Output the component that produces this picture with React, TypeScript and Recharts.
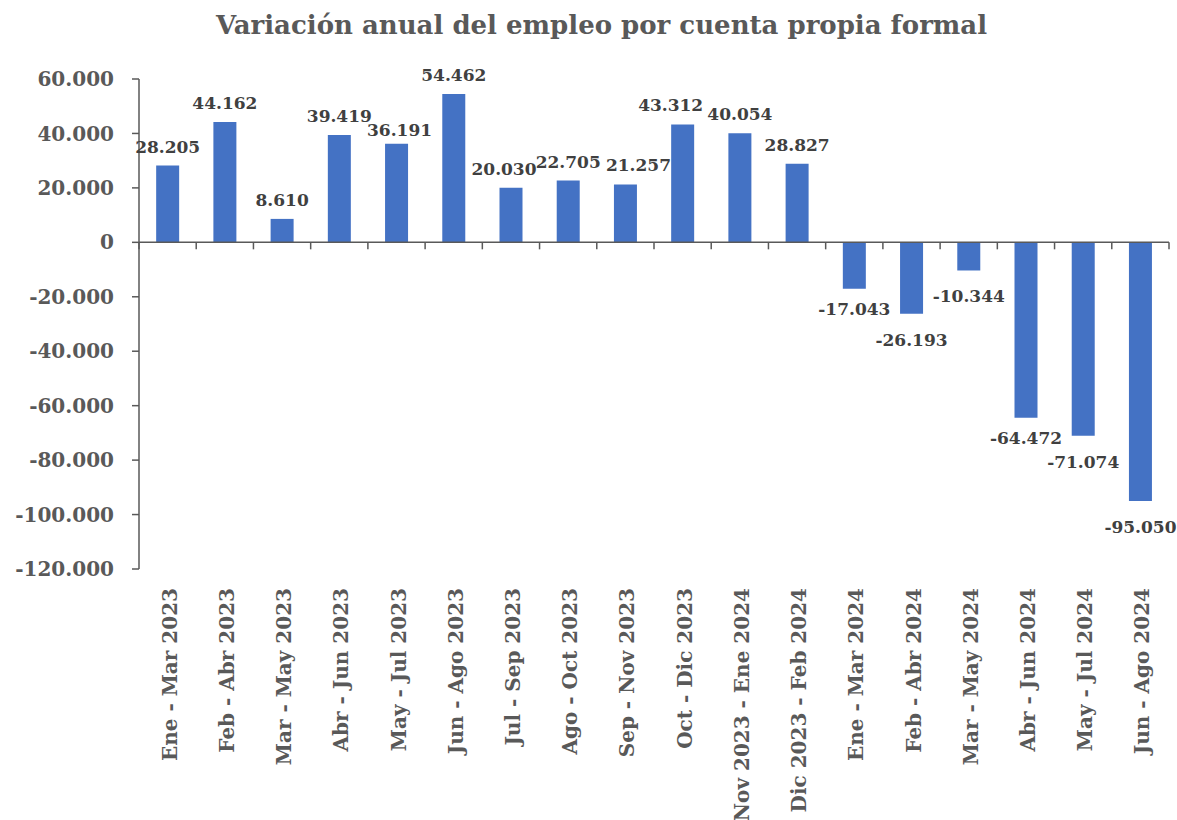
import React from 'react';
import { BarChart, Bar, XAxis, YAxis, LabelList, ReferenceLine } from 'recharts';

const periods = [
    'Ene - Mar 2023', 'Feb - Abr 2023', 'Mar - May 2023', 'Abr - Jun 2023', 'May - Jul 2023',
    'Jun - Ago 2023', 'Jul - Sep 2023', 'Ago - Oct 2023', 'Sep - Nov 2023', 'Oct - Dic 2023',
    'Nov 2023 - Ene 2024', 'Dic 2023 - Feb 2024', 'Ene - Mar 2024', 'Feb - Abr 2024',
    'Mar - May 2024', 'Abr - Jun 2024', 'May - Jul 2024', 'Jun - Ago 2024',
];
const variacion = [
    28205, 44162, 8610, 39419, 36191, 54462, 20030, 22705, 21257, 43312,
    40054, 28827, -17043, -26193, -10344, -64472, -71074, -95050,
];
const yTicks = [60000, 40000, 20000, 0, -20000, -40000, -60000, -80000, -100000, -120000];

const data = periods.map((name, i) => ({ name, value: variacion[i] }));

const FONT = '"DejaVu Serif", serif';
const AXIS_GREY = '#595959';
const LABEL_GREY = '#404040';

// small label nudges (excel moved a few labels to avoid collisions)
const labelNudge: Record<number, [number, number]> = {
    4: [3, 5],
    6: [-7, 0],
    8: [13, 0],
    9: [-12, 0],
    12: [0, -6],
    15: [0, -6],
};

const fmt = (v: number) => {
    const s = Math.abs(v).toString().replace(/\B(?=(\d{3})+(?!\d))/g, '.');
    return v < 0 ? `-${s}` : s;
};

const XTick: React.FC<any> = ({ x, y, payload }) => (
    <g transform={`translate(${x},${y})`}>
        <text
            transform="rotate(-90)"
            x={-11}
            y={0}
            dy="0.45em"
            textAnchor="end"
            fill={AXIS_GREY}
            fontFamily={FONT}
            fontWeight="bold"
            fontSize={20}
        >
            {payload.value}
        </text>
    </g>
);

const ValueLabel: React.FC<any> = ({ x, y, width, height, value, index }) => {
    const top = Math.min(y, y + height);
    const bottom = Math.max(y, y + height);
    const [dx, dy] = labelNudge[index] || [0, 0];
    const cx = x + width / 2 + dx;
    const ty = (value >= 0 ? top - 13 : bottom + 32) + dy;
    return (
        <text x={cx} y={ty} textAnchor="middle" fill={LABEL_GREY} fontFamily={FONT} fontWeight="bold" fontSize={17}>
            {fmt(value)}
        </text>
    );
};

// zero line with category boundary tick marks, like the excel category axis
const ZeroAxis: React.FC<any> = ({ x1, y1, x2 }) => {
    const step = (x2 - x1) / data.length;
    return (
        <g>
            <line x1={x1} y1={y1} x2={x2} y2={y1} stroke={AXIS_GREY} strokeWidth={1.5} />
            {data.map((_, i) => (
                <line key={i} x1={x1 + step * (i + 1)} y1={y1} x2={x1 + step * (i + 1)} y2={y1 + 7} stroke={AXIS_GREY} strokeWidth={1.5} />
            ))}
            <line x1={x1} y1={y1} x2={x1} y2={y1 + 7} stroke={AXIS_GREY} strokeWidth={1.5} />
        </g>
    );
};

export default function App() {
    return (
        <div style={{ position: 'absolute', left: 0, top: 0, width: 1177, height: 820, background: '#fff' }}>
            <div
                style={{
                    position: 'absolute',
                    top: 10,
                    left: 13,
                    width: 1177,
                    textAlign: 'center',
                    fontFamily: FONT,
                    fontWeight: 'bold',
                    fontSize: 26,
                    color: AXIS_GREY,
                }}
            >
                Variación anual del empleo por cuenta propia formal
            </div>
            <BarChart width={1177} height={820} data={data} margin={{ top: 79, right: 8, left: 0, bottom: 0 }} barCategoryGap="30%">
                <XAxis
                    dataKey="name"
                    interval={0}
                    height={251}
                    axisLine={false}
                    tickLine={false}
                    tick={<XTick />}
                />
                <YAxis
                    type="number"
                    domain={[-120000, 60000]}
                    ticks={yTicks}
                    interval={0}
                    width={139}
                    tickFormatter={fmt}
                    tickSize={7}
                    tickMargin={18}
                    axisLine={{ stroke: AXIS_GREY, strokeWidth: 1.5 }}
                    tickLine={{ stroke: AXIS_GREY, strokeWidth: 1.5 }}
                    tick={{ fill: AXIS_GREY, fontFamily: FONT, fontWeight: 'bold', fontSize: 20 }}
                />
                <Bar dataKey="value" fill="#4472C4" isAnimationActive={false}>
                    <LabelList dataKey="value" content={<ValueLabel />} />
                </Bar>
                <ReferenceLine y={0} shape={<ZeroAxis />} />
            </BarChart>
        </div>
    );
}
